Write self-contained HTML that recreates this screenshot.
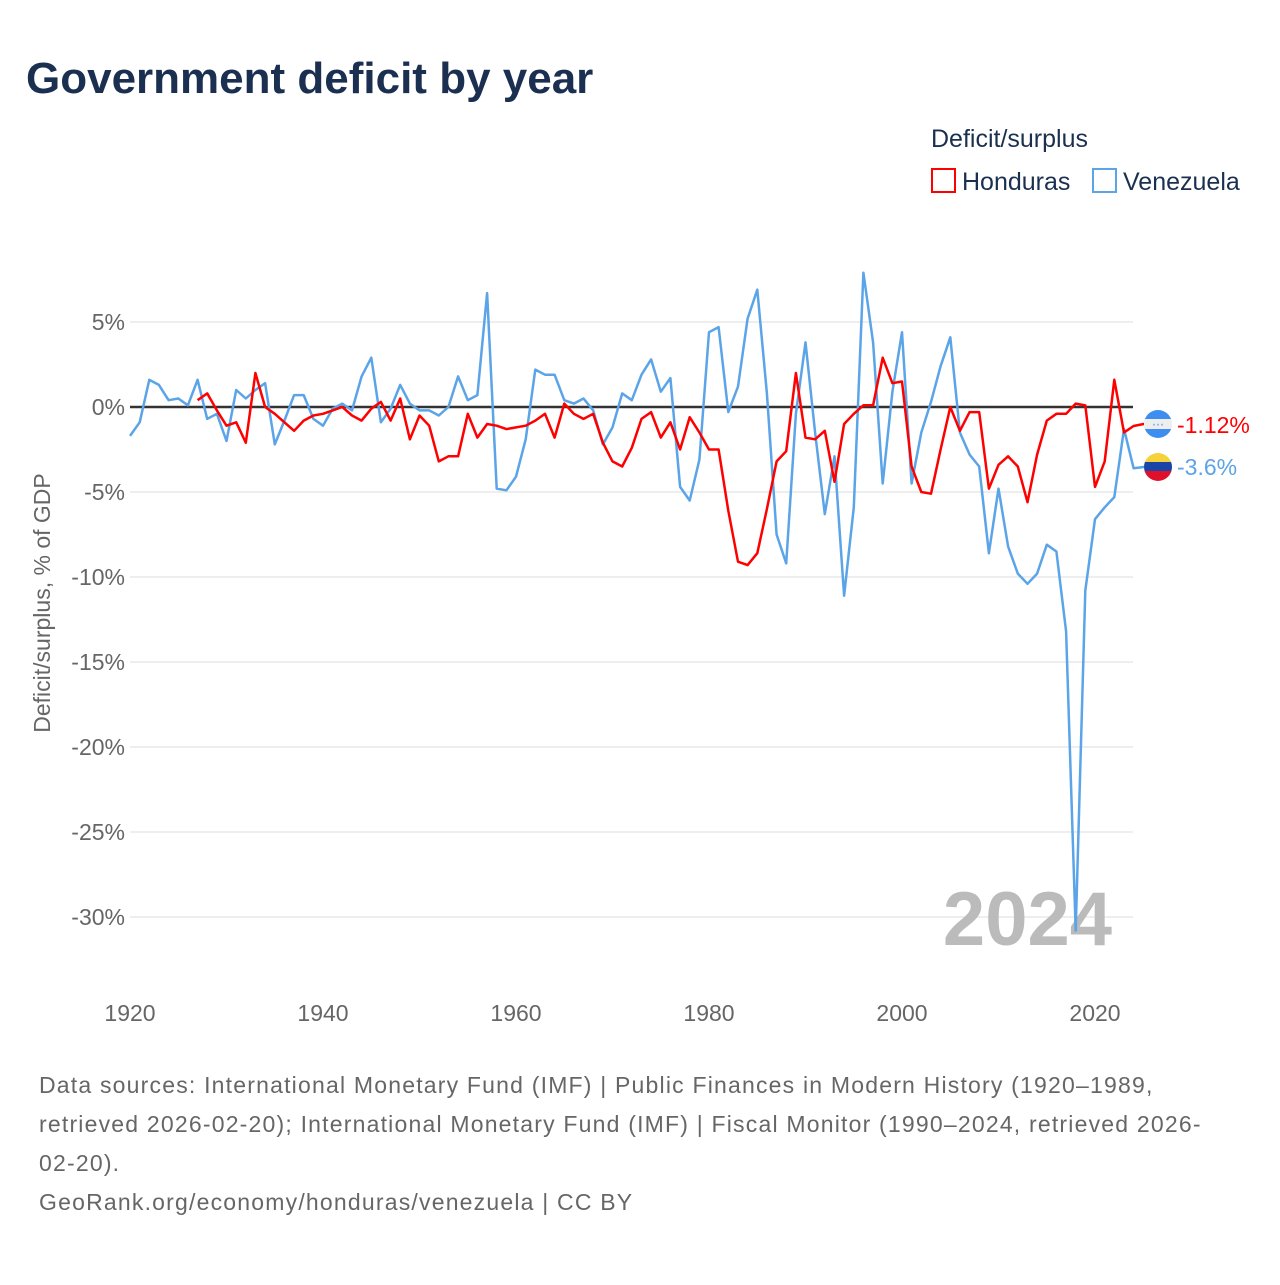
<!DOCTYPE html>
<html><head><meta charset="utf-8"><style>
body{margin:0;background:#fff;font-family:"Liberation Sans",sans-serif;}
</style></head><body>
<svg id="chart" width="1280" height="1280" xmlns="http://www.w3.org/2000/svg">
<defs>
<clipPath id="c1"><circle cx="1158" cy="424" r="14"/></clipPath>
<clipPath id="c2"><circle cx="1158" cy="467" r="14"/></clipPath>
</defs>
<text x="26" y="93" font-size="44" font-weight="bold" fill="#1b3050">Government deficit by year</text>
<text x="931" y="147" font-size="25" fill="#1b3050">Deficit/surplus</text>
<g><rect x="932" y="169" width="23" height="23" fill="none" stroke="#f00" stroke-width="2"/><text x="962" y="190" font-size="25" fill="#1b3050">Honduras</text></g>
<g><rect x="1093" y="169" width="23" height="23" fill="none" stroke="#5ba4e8" stroke-width="2"/><text x="1123" y="190" font-size="25" fill="#1b3050">Venezuela</text></g>
<g id="grid"></g>
<g id="ylabels"></g>
<g id="xlabels"></g>
<text transform="translate(50,603) rotate(-90)" text-anchor="middle" font-size="23" fill="#666">Deficit/surplus, % of GDP</text>
<text x="1112" y="945" text-anchor="end" font-size="76" font-weight="bold" fill="#bbb">2024</text>
<g id="lines"></g>
<g><g clip-path="url(#c1)"><rect x="1144" y="410" width="28" height="28" fill="#eee"/><rect x="1144" y="410" width="28" height="9" fill="#3d8ef0"/><rect x="1144" y="429" width="28" height="9" fill="#3d8ef0"/><text x="1158" y="428" font-size="6" text-anchor="middle" fill="#3d8ef0">* * *</text></g></g>
<g><g clip-path="url(#c2)"><rect x="1144" y="453" width="28" height="10" fill="#f6d23a"/><rect x="1144" y="462" width="28" height="10" fill="#1a45a8"/><rect x="1144" y="471" width="28" height="10" fill="#e0102a"/></g></g>
<text x="1177" y="433" font-size="23" fill="#f00">-1.12%</text>
<text x="1177" y="475" font-size="23" fill="#5ba4e8">-3.6%</text>
<text font-size="23" fill="#666" letter-spacing="1.2">
<tspan x="39" y="1093">Data sources: International Monetary Fund (IMF) | Public Finances in Modern History (1920–1989,</tspan>
<tspan x="39" y="1132">retrieved 2026-02-20); International Monetary Fund (IMF) | Fiscal Monitor (1990–2024, retrieved 2026-</tspan>
<tspan x="39" y="1171">02-20).</tspan>
<tspan x="39" y="1210">GeoRank.org/economy/honduras/venezuela | CC BY</tspan>
</text>
</svg>
<script>
const yTicks=[5,0,-5,-10,-15,-20,-25,-30];
const xTicks=[1920,1940,1960,1980,2000,2020];
const venStart=1920;
const venezuela=[-1.7,-0.9,1.6,1.3,0.4,0.5,0.1,1.6,-0.7,-0.4,-2.0,1.0,0.5,1.0,1.4,-2.2,-0.8,0.7,0.7,-0.7,-1.1,-0.1,0.2,-0.2,1.8,2.9,-0.9,-0.1,1.3,0.2,-0.2,-0.2,-0.5,0,1.8,0.4,0.7,6.7,-4.8,-4.9,-4.1,-1.9,2.2,1.9,1.9,0.4,0.2,0.5,-0.2,-2.2,-1.2,0.8,0.4,1.9,2.8,0.9,1.7,-4.7,-5.5,-3.1,4.4,4.7,-0.3,1.2,5.2,6.9,0.8,-7.5,-9.2,-0.4,3.8,-1.5,-6.3,-2.9,-11.1,-5.9,7.9,3.8,-4.5,0.9,4.4,-4.5,-1.5,0.3,2.4,4.1,-1.5,-2.8,-3.5,-8.6,-4.8,-8.2,-9.8,-10.4,-9.8,-8.1,-8.5,-13.2,-30.8,-10.8,-6.6,-5.9,-5.3,-1.3,-3.6];
const honStart=1927;
const honduras=[0.4,0.8,-0.2,-1.1,-0.9,-2.1,2.0,0,-0.4,-0.9,-1.4,-0.8,-0.5,-0.4,-0.2,0,-0.5,-0.8,-0.1,0.3,-0.8,0.5,-1.9,-0.5,-1.1,-3.2,-2.9,-2.9,-0.4,-1.8,-1.0,-1.1,-1.3,-1.2,-1.1,-0.8,-0.4,-1.8,0.2,-0.4,-0.7,-0.4,-2.1,-3.2,-3.5,-2.4,-0.7,-0.3,-1.8,-0.9,-2.5,-0.6,-1.5,-2.5,-2.5,-6.1,-9.1,-9.3,-8.6,-6.0,-3.2,-2.6,2.0,-1.8,-1.9,-1.4,-4.4,-1.0,-0.4,0.1,0.1,2.9,1.4,1.5,-3.5,-5.0,-5.1,-2.5,0,-1.4,-0.3,-0.3,-4.8,-3.4,-2.9,-3.5,-5.6,-2.8,-0.8,-0.4,-0.4,0.2,0.1,-4.7,-3.2,1.6,-1.5,-1.12];
const NS="http://www.w3.org/2000/svg";
const X=yr=>130+(yr-1920)*9.65;
const Y=v=>407-v*17;
function mk(tag,attrs,parent){const e=document.createElementNS(NS,tag);for(const k in attrs)e.setAttribute(k,attrs[k]);document.getElementById(parent).appendChild(e);return e;}
yTicks.forEach(t=>{
  const g=mk('line',{x1:130,x2:1133,y1:Y(t),y2:Y(t),stroke:'#e8e8e8','stroke-width':1.5},'grid');
  
  
  const l=mk('text',{x:125,y:Y(t)+8,'text-anchor':'end','font-size':23,fill:'#666'},'ylabels');
  l.textContent=t+'%';
  
  
});
xTicks.forEach(t=>{
  const l=mk('text',{x:X(t),y:1021,'text-anchor':'middle','font-size':23,fill:'#666'},'xlabels');
  l.textContent=t;
  
  
});
const zero=mk('line',{x1:130,x2:1133,y1:Y(0),y2:Y(0),stroke:'#333','stroke-width':2.5},'grid');


function series(arr,start,color,name,flagY){
  const pts=arr.map((v,i)=>X(start+i).toFixed(1)+','+Y(v).toFixed(1));
  const last=arr.length-1;
  pts.push((X(start+last)+10)+','+flagY, '1144,'+flagY);
  const p=mk('polyline',{points:pts.join(' '),fill:'none',stroke:color,'stroke-width':2.5,'stroke-linejoin':'round'},'lines');
  
  
}
series(venezuela,venStart,'#5ba4e8','line-venezuela',467);
series(honduras,honStart,'#f00','line-honduras',424);
</script>
</body></html>
